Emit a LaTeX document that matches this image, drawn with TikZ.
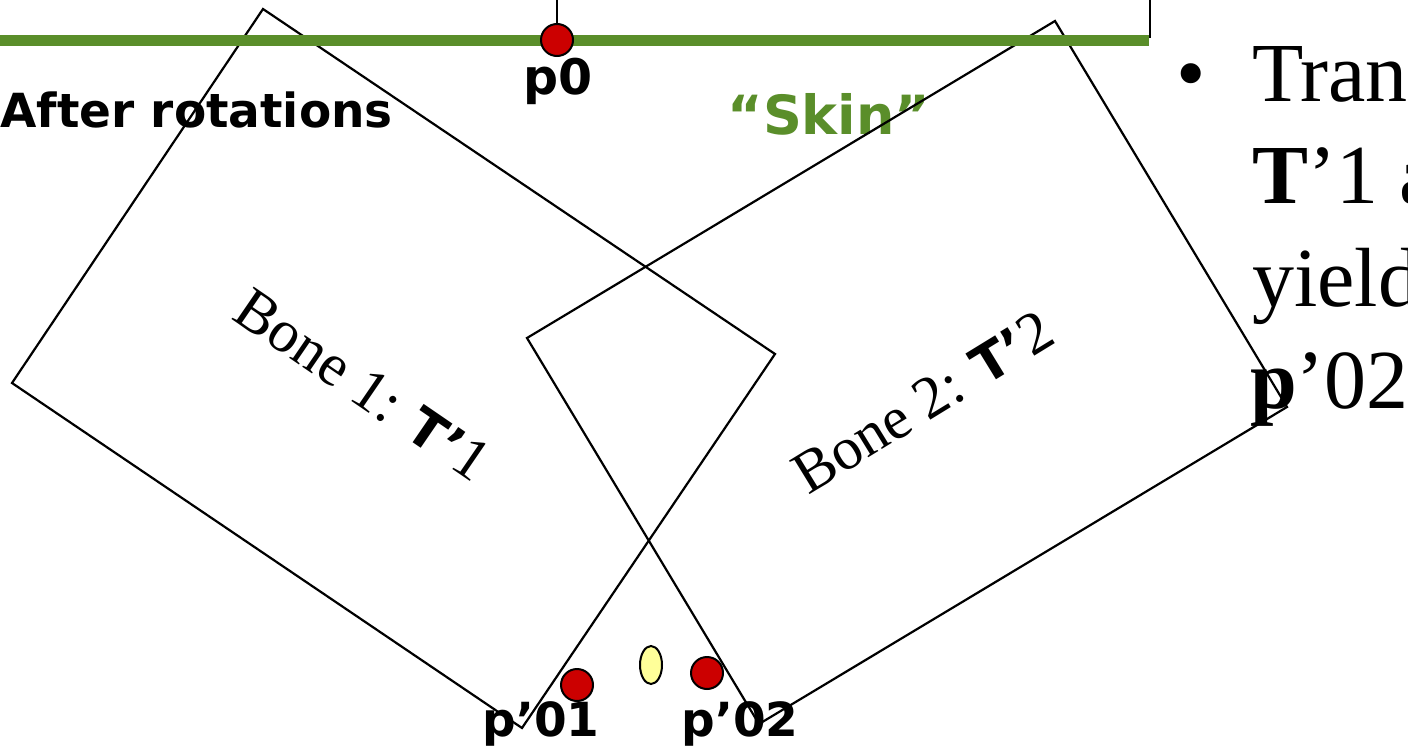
\documentclass[tikz,border=0pt]{standalone}
\usepackage{fontspec}
\usetikzlibrary{shapes.geometric}
\setmainfont{Liberation Serif}
\newfontfamily\vsans{DejaVu Sans}
\definecolor{skingreen}{RGB}{90,142,42}
\definecolor{ptred}{RGB}{204,0,0}
\definecolor{ptyellow}{RGB}{255,255,153}
\begin{document}
\begin{tikzpicture}[x=1pt,y=-1pt,
  bonebox/.style={draw=black,line width=2.2pt,line join=miter},
  ptdot/.style={circle,draw=black,line width=2pt,fill=ptred,minimum size=32pt,inner sep=0pt},
  ptlabel/.style={font=\vsans\bfseries\fontsize{47}{50}\selectfont,inner sep=0pt,anchor=base},
  bonelabel/.style={font=\fontsize{60}{62}\selectfont,inner sep=0pt},
  bigtext/.style={font=\fontsize{84}{102}\selectfont,inner sep=0pt,anchor=base west}]
\useasboundingbox (0,0) rectangle (1408,746);
\clip (0,0) rectangle (1408,746);
% texts under the lines
\node[ptlabel,anchor=base west] (after) at (0,128) {After rotations};
\node[ptlabel,text=skingreen,font=\vsans\bfseries\fontsize{54}{56}\selectfont] (skin) at (829,135) {“Skin”};
\node[bigtext] (bullet) at (1176,102) {•};
\node[bigtext] (l1) at (1252,102) {Tran};
\node[bigtext] (l2) at (1252,204) {\textbf{T}’1 a};
\node[bigtext] (l3) at (1252,306) {yield};
\node[bigtext] (l4) at (1250,408) {\textbf{p}’02};
% bone 1
\coordinate (a1) at (263,9);
\coordinate (b1) at (775,354);
\coordinate (c1) at (522,728);
\coordinate (d1) at (12,383);
\draw[bonebox] (a1) -- (b1) -- (c1) -- (d1) -- cycle;
% bone 2
\coordinate (t2) at (1055,21);
\coordinate (r2) at (1287,407);
\coordinate (s2) at (759,724);
\coordinate (l2c) at (527,338);
\draw[bonebox] (t2) -- (r2) -- (s2) -- (l2c) -- cycle;
\node[bonelabel,rotate=-34.4] (bone1) at (363,385) {Bone 1: {\vsans\bfseries\fontsize{52}{54}\selectfont T’}1};
\node[bonelabel,rotate=31.5] (bone2) at (923,402) {Bone 2: {\vsans\bfseries\fontsize{52}{54}\selectfont T’}2};
% skin line and top box
\coordinate (tl) at (557,-5);
\coordinate (tr) at (1150,-5);
\coordinate (bl) at (557,40);
\coordinate (br) at (1150,38);
\draw[line width=2.2pt] (bl) -- (tl) -- (tr) -- (br);
\coordinate (g0) at (-5,40.5);
\coordinate (g1) at (1149,40.5);
\draw[skingreen,line width=11pt] (g0) -- (g1);
% points
\node[ptdot] (p0) at (557,40) {};
\node[ptdot] (p01) at (577,685) {};
\node[ptdot] (p02) at (707,673) {};
\node[ellipse,draw=black,line width=2pt,fill=ptyellow,minimum width=22pt,minimum height=38pt,inner sep=0pt] (mid) at (651,665) {};
\node[ptlabel,font=\vsans\bfseries\fontsize{49}{50}\selectfont] (p0lab) at (558,95) {p0};
\node[ptlabel] (p01lab) at (541,736) {p’01};
\node[ptlabel] (p02lab) at (740,736) {p’02};
\end{tikzpicture}
\end{document}
